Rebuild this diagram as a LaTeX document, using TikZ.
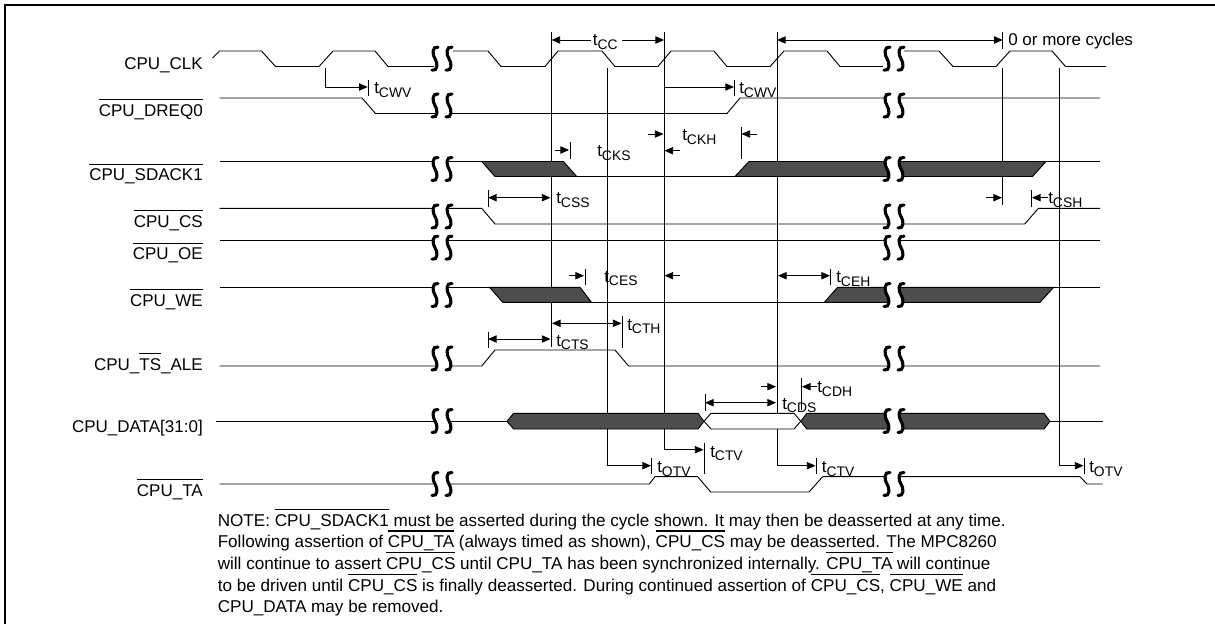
\documentclass[tikz,border=0pt]{standalone}
\usepackage{fontspec}
\setmainfont{Liberation Sans}
\usetikzlibrary{arrows.meta}
\definecolor{busgray}{RGB}{77,77,77}
\newcommand{\sigbar}[1]{\setbox0=\hbox{#1}\rlap{\smash{\rule[12pt]{\wd0}{1.1pt}}}\box0\relax}
\newcommand{\tsub}[1]{t\raisebox{-2.6pt}{\fontsize{10.4}{10}\selectfont #1}}
\tikzset{
    sigline/.style={line width=0.7pt,line join=round},
    guideline/.style={line width=0.75pt},
    tickline/.style={line width=0.65pt},
    dimvec/.style={line width=0.65pt,>={Stealth[inset=0pt,length=6.5pt,width=5.5pt]}},
    busfill/.style={fill=busgray,draw=black,line width=0.7pt,line join=round},
    buswhite/.style={fill=white,draw=black,line width=0.7pt,line join=round},
    siglabel/.style={anchor=base east,inner sep=0pt,font=\fontsize{12.75}{14}\selectfont},
    timelabel/.style={anchor=base west,inner sep=0pt,font=\fontsize{12.75}{14}\selectfont},
    notetext/.style={anchor=north west,inner sep=0pt,align=left,font=\fontsize{12.83}{16.25}\selectfont},
    brk/.pic={
        \fill[white] (-4,-11.5) .. controls (-10,-13) and (-10,-4) .. (-7,0)
            .. controls (-4,4) and (-4,13) .. (-10,11.5) -- (4,11.5)
            .. controls (10,13) and (10,4) .. (7,0)
            .. controls (4,-4) and (4,-13) .. (10,-11.5) -- cycle;
        \draw[line width=2.3pt,line cap=round] (-4,-11.5) .. controls (-10,-13) and (-10,-4) .. (-7,0)
            .. controls (-4,4) and (-4,13) .. (-10,11.5);
        \draw[line width=2.3pt,line cap=round] (10,-11.5) .. controls (4,-13) and (4,-4) .. (7,0)
            .. controls (10,4) and (10,13) .. (4,11.5);
    }
}
\begin{document}
\begin{tikzpicture}[x=0.75pt,y=-0.75pt]
    \useasboundingbox (0,0) rectangle (1215,624);
    % Frame
    \draw[line width=1.5pt] (5,624) -- (5,5) -- (1215,5);
    % Guides
    \draw[guideline] (551.5,32) -- (551.5,347);
    \draw[guideline] (607.5,68) -- (607.5,465.7);
    \draw[guideline] (664,32) -- (664,449.7);
    \draw[guideline] (777,32) -- (777,465.7);
    \draw[guideline] (1002.7,68) -- (1002.7,205);
    \draw[guideline] (1059,68) -- (1059,465.7);
    % CPU_CLK
    \draw[sigline] (212.5,58) -- (219.5,51) -- (261.5,51) -- (275.5,66.5) -- (319,66.5) -- (333,51) -- (375,51) -- (388,66.5) -- (434,66.5);
    \draw[sigline] (453,51) -- (488,51) -- (501,66.5) -- (545,66.5) -- (558,51) -- (602,51) -- (615,66.5) -- (658,66.5) -- (671,51) -- (714,51) -- (727,66.5) -- (770,66.5) -- (784,51) -- (827,51) -- (840,66.5) -- (883,66.5);
    \draw[sigline] (904,51) -- (939,51) -- (953,66.5) -- (996,66.5) -- (1010,51) -- (1052,51) -- (1065.5,66.5) -- (1106,66.5);
    % CPU_DREQ0
    \draw[sigline] (219.5,98) -- (362,98) -- (375.5,113.5) -- (727,113.5) -- (740,98) -- (1100,98);
    % CPU_SDACK1
    \draw[sigline] (219.5,161.5) -- (481.7,161.5);
    \draw[sigline] (576.7,176.5) -- (735,176.5);
    \draw[sigline] (1046,161.5) -- (1100,161.5);
    \draw[busfill] (481.7,161.5) -- (563.4,161.5) -- (576.7,176.5) -- (495,176.5) -- cycle;
    \draw[busfill] (735,176.5) -- (749,161.5) -- (1046,161.5) -- (1032.5,176.5) -- cycle;
    % CPU_CS
    \draw[sigline] (219.5,208.3) -- (481.7,208.3) -- (495,224) -- (1024.7,224) -- (1038.4,208.3) -- (1100,208.3);
    % CPU_OE
    \draw[sigline] (219.5,240) -- (1100,240);
    % CPU_WE
    \draw[sigline] (219.5,287.3) -- (489.5,287.3);
    \draw[sigline] (591.5,302.3) -- (824.3,302.3);
    \draw[sigline] (1053.7,287.3) -- (1100,287.3);
    \draw[busfill] (489.5,287.3) -- (580,287.3) -- (591.5,302.3) -- (502.7,302.3) -- cycle;
    \draw[busfill] (824.3,302.3) -- (837.6,287.3) -- (1053.7,287.3) -- (1040,302.3) -- cycle;
    % CPU_TS_ALE
    \draw[sigline] (219.5,366) -- (481.7,366) -- (495,350) -- (615,350) -- (628.6,366) -- (1100,366);
    % CPU_DATA
    \draw[sigline] (216,421.3) -- (507,421.3);
    \draw[sigline] (1050,421.3) -- (1103,421.3);
    \draw[buswhite] (704,421.3) -- (711,413.3) -- (794,413.3) -- (800.8,421.3) -- (794,429) -- (711,429) -- cycle;
    \draw[busfill] (507,421.3) -- (513.6,413.3) -- (698,413.3) -- (704,421.3) -- (698,429) -- (513.6,429) -- cycle;
    \draw[busfill] (800.8,421.3) -- (806.7,413.3) -- (1044,413.3) -- (1050,421.3) -- (1044,429) -- (806.7,429) -- cycle;
    % CPU_TA
    \draw[sigline] (219.5,484) -- (649.3,484) -- (655,476.7) -- (697.7,476.7) -- (710.7,492) -- (809,492) -- (822.7,476.7) -- (1080,476.7) -- (1087,484) -- (1102.7,484);
    % Breaks
    \foreach \yc in {58.7,105.5,169,216.5,247.7,295,358.5,421,484}{
        \pic at (442,\yc) {brk};
        \pic at (894,\yc) {brk};
    }
    % Signal names
    \node[siglabel] (clk) at (203,70) {CPU\_CLK};
    \node[siglabel] (dreq) at (203,116.5) {\sigbar{CPU\_DREQ0}};
    \node[siglabel] (sdack) at (203,181) {\sigbar{CPU\_SDACK1}};
    \node[siglabel] (cs) at (203,227.5) {\sigbar{CPU\_CS}};
    \node[siglabel] (oe) at (203,260) {\sigbar{CPU\_OE}};
    \node[siglabel] (we) at (203,306.5) {\sigbar{CPU\_WE}};
    \node[siglabel] (ale) at (203,370) {CPU\_\sigbar{TS}\_ALE};
    \node[siglabel] (data) at (203,432.5) {CPU\_DATA[31:0]};
    \node[siglabel] (ta) at (203,496) {\sigbar{CPU\_TA}};
    % tCC and cycles
    \draw[dimvec,->] (591,40) -- (551.5,40);
    \draw[dimvec,->] (622,40) -- (664,40);
    \node[timelabel] (tcc) at (592.6,46) {\tsub{CC}};
    \draw[dimvec,<->] (777,40) -- (1002.7,40);
    \draw[tickline] (1002.7,32) -- (1002.7,49);
    \node[timelabel] (cycles) at (1008,46) {0 or more cycles};
    % tCWV
    \draw[dimvec,->] (325,68) -- (325,87) -- (367.7,87);
    \draw[tickline] (368.5,80) -- (368.5,96);
    \node[timelabel] (tcwva) at (374,94) {\tsub{CWV}};
    \draw[dimvec,->] (664,87) -- (734,87);
    \draw[tickline] (734,80) -- (734,96);
    \node[timelabel] (tcwvb) at (739,94) {\tsub{CWV}};
    % tCKS and tCKH
    \draw[dimvec,->] (554.5,150) -- (569,150);
    \draw[tickline] (570,142) -- (570,159);
    \node[timelabel] (tcks) at (597,157) {\tsub{CKS}};
    \draw[dimvec,->] (648,134) -- (663.5,134);
    \draw[dimvec,->] (680,150.7) -- (664.5,150.7);
    \node[timelabel] (tckh) at (682,141) {\tsub{CKH}};
    \draw[dimvec,->] (757,134) -- (741.5,134);
    \draw[tickline] (741,127) -- (741,159);
    % tCSS and tCSH
    \draw[dimvec,<->] (488,197.7) -- (550.5,197.7);
    \draw[tickline] (488,190) -- (488,207);
    \node[timelabel] (tcss) at (556,204) {\tsub{CSS}};
    \draw[dimvec,->] (986,197.7) -- (1002,197.7);
    \draw[dimvec,->] (1048,197.7) -- (1032,197.7);
    \draw[tickline] (1031.4,190) -- (1031.4,207);
    \node[timelabel] (tcsh) at (1048,204) {\tsub{CSH}};
    % tCES and tCEH
    \draw[dimvec,->] (569,275.7) -- (584,275.7);
    \draw[tickline] (585,269) -- (585,285);
    \node[timelabel] (tces) at (604,282.5) {\tsub{CES}};
    \draw[dimvec,->] (680,275.7) -- (664.5,275.7);
    \draw[dimvec,<->] (778,275.7) -- (830,275.7);
    \draw[tickline] (830.6,269) -- (830.6,285);
    \node[timelabel] (tceh) at (836,283) {\tsub{CEH}};
    % tCTH and tCTS
    \draw[dimvec,<->] (552,323.3) -- (621.5,323.3);
    \draw[tickline] (622,316) -- (622,348);
    \node[timelabel] (tcth) at (627,330) {\tsub{CTH}};
    \draw[dimvec,<->] (488,339) -- (550.5,339);
    \draw[tickline] (488,332) -- (488,348);
    \node[timelabel] (tcts) at (556,346) {\tsub{CTS}};
    % tCDH and tCDS
    \draw[dimvec,->] (761,386.7) -- (776,386.7);
    \draw[dimvec,->] (817,386.7) -- (802,386.7);
    \draw[tickline] (801,378) -- (801,410);
    \node[timelabel] (tcdh) at (817,392.7) {\tsub{CDH}};
    \draw[dimvec,<->] (705,402.7) -- (776,402.7);
    \draw[tickline] (705,394) -- (705,411);
    \node[timelabel] (tcds) at (782,409) {\tsub{CDS}};
    % tOTV and tCTV
    \draw[dimvec,->] (607.5,465.7) -- (651,465.7);
    \draw[tickline] (651.7,458) -- (651.7,474);
    \node[timelabel] (totva) at (657,472.7) {\tsub{OTV}};
    \draw[dimvec,->] (664,449.7) -- (703.5,449.7);
    \draw[tickline] (704,442.7) -- (704,474);
    \node[timelabel] (tctva) at (710,457) {\tsub{CTV}};
    \draw[dimvec,->] (777,465.7) -- (815.5,465.7);
    \draw[tickline] (816,458) -- (816,474);
    \node[timelabel] (tctvb) at (821.7,472.7) {\tsub{CTV}};
    \draw[dimvec,->] (1059,465.7) -- (1083.5,465.7);
    \draw[tickline] (1084,458) -- (1084,474);
    \node[timelabel] (totvb) at (1089,472.7) {\tsub{OTV}};
    % Note
    \node[notetext] (note) at (217.5,513.5) {NOTE: \sigbar{CPU\_SDACK1} must be asserted during the cycle shown. It may then be deasserted at any time.\\
        Following assertion of \sigbar{CPU\_TA} (always timed as shown), \sigbar{CPU\_CS} may be deasserted. The MPC8260\\
        will continue to assert \sigbar{CPU\_CS} until CPU\_TA has been synchronized internally. \sigbar{CPU\_TA} will continue\\
        to be driven until \sigbar{CPU\_CS} is finally deasserted. During continued assertion of \sigbar{CPU\_CS}, \sigbar{CPU\_WE} and\\
        CPU\_DATA may be removed.};
\end{tikzpicture}
\end{document}
